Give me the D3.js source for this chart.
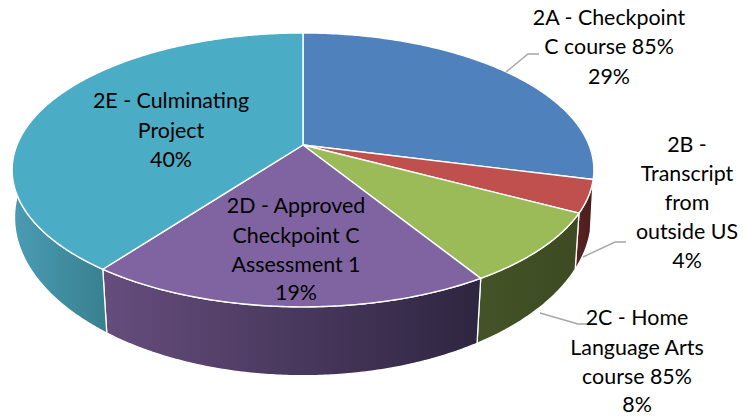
<!DOCTYPE html>
<html>
<head>
<meta charset="utf-8">
<script src="https://cdn.jsdelivr.net/npm/d3@7"></script>
<style>
html,body{margin:0;padding:0;background:#fff;}
svg{display:block;}
text{font-family:Lato,"Open Sans",sans-serif;fill:#000;}
</style>
</head>
<body>
<div id="chart"></div>
<script>
// --- data ---
const categories = ["2A - Checkpoint C course 85%","2B - Transcript from outside US","2C - Home Language Arts course 85%","2D - Approved Checkpoint C Assessment 1","2E - Culminating Project"];
const values = [29, 3.8, 8.4, 19.0, 39.8];
const labelLines = [
  ["2A - Checkpoint","C course 85%"],
  ["2B -","Transcript","from","outside US"],
  ["2C - Home","Language Arts","course 85%"],
  ["2D - Approved","Checkpoint C","Assessment 1"],
  ["2E - Culminating","Project"]
];
const topColors = ["#4f81bd","#c0504d","#9bbb59","#8064a2","#4bacc6"];
const wallStops = [["#3a5f8c","#3a5f8c"],["#5a2423","#4a1c1b"],["#445328","#3d4a22"],["#664d7d","#2e2540"],["#4a9cb4","#38808f"]];

// --- layout ---
const W = 743, H = 418;
const cx = 303, cy = 145, A = 286, B = 132.4, P = 0.182;
const visibleFrom = 100 * Math.PI / 180, visibleTo = 290 * Math.PI / 180;
const labelPos = [
  {x:609,y:[18,47,77]},
  {x:687,y:[145,174,203,232,261]},
  {x:637,y:[318,348,377,405]},
  {x:296,y:[206,236,265,293]},
  {x:171,y:[101,131,160]}
];
const leaders = [
  {i:0,pts:[[506,72],[528,54],[539,54]]},
  {i:1,pts:[[583,257],[615,242],[626,242]]},
  {i:2,pts:[[540,313],[578,324],[588,324]]}
];

const svg = d3.select("#chart").append("svg").attr("width",W).attr("height",H);
const defs = svg.append("defs");

const pie = d3.pie().sort(null).startAngle(0).endAngle(2*Math.PI);
const arcs = pie(values);
const total = d3.sum(values);
const fmt = v => d3.format(".0f")(v/total*100) + "%";

function rim(t){
  const w = 1 + P*Math.cos(t);
  return [cx + A*Math.sin(t)/w, cy - B*Math.cos(t)/w];
}
function rimLow(t){
  const [x,y] = rim(t);
  const s = 0.995 - 0.0185*Math.abs(Math.cos(t));
  return [cx + s*(x-cx), y + 47 + 0.135*(y-cy)];
}
function samples(a,b){
  const n = Math.max(2, Math.ceil(Math.abs(b-a)/(0.5*Math.PI/180)));
  return d3.range(n+1).map(i => a + (b-a)*i/n);
}
const line = d3.line();

// side walls
const wallG = svg.append("g");
arcs.forEach((d,i)=>{
  const a = Math.max(d.startAngle, visibleFrom), b = Math.min(d.endAngle, visibleTo);
  if (b <= a || i === 0) return;
  const ts = samples(a,b);
  const pts = ts.map(rim).concat(ts.slice().reverse().map(rimLow));
  const xs = pts.map(p=>p[0]);
  const g = defs.append("linearGradient").attr("id","wall"+i)
    .attr("gradientUnits","userSpaceOnUse")
    .attr("x1",d3.min(xs)).attr("x2",d3.max(xs)).attr("y1",0).attr("y2",0);
  g.append("stop").attr("offset",0).attr("stop-color",wallStops[i][0]);
  g.append("stop").attr("offset",1).attr("stop-color",wallStops[i][1]);
  wallG.append("path").attr("d",line(pts)+"Z")
    .attr("fill","url(#wall"+i+")").attr("stroke","#fff").attr("stroke-width",1.3).attr("stroke-linejoin","round");
});

// top faces
const topG = svg.append("g");
arcs.forEach((d,i)=>{
  const pts = [[cx,cy]].concat(samples(d.startAngle,d.endAngle).map(rim));
  topG.append("path").attr("d",line(pts)+"Z")
    .attr("fill",topColors[i]).attr("stroke","#fff").attr("stroke-width",1.4).attr("stroke-linejoin","round");
});

// leader lines
leaders.forEach(l=>{
  svg.append("path").attr("d",line(l.pts)).attr("fill","none")
    .attr("stroke","#a6a6a6").attr("stroke-width",1.4);
});

// labels
categories.forEach((c,i)=>{
  const lines = labelLines[i].concat([fmt(values[i])]);
  const t = svg.append("text").attr("aria-label",c).attr("text-anchor","middle").attr("font-size",21.4);
  lines.forEach((s,j)=>{
    t.append("tspan").attr("x",labelPos[i].x).attr("y",labelPos[i].y[j]).attr("dy","0.35em").text(s);
  });
});
</script>
</body>
</html>
